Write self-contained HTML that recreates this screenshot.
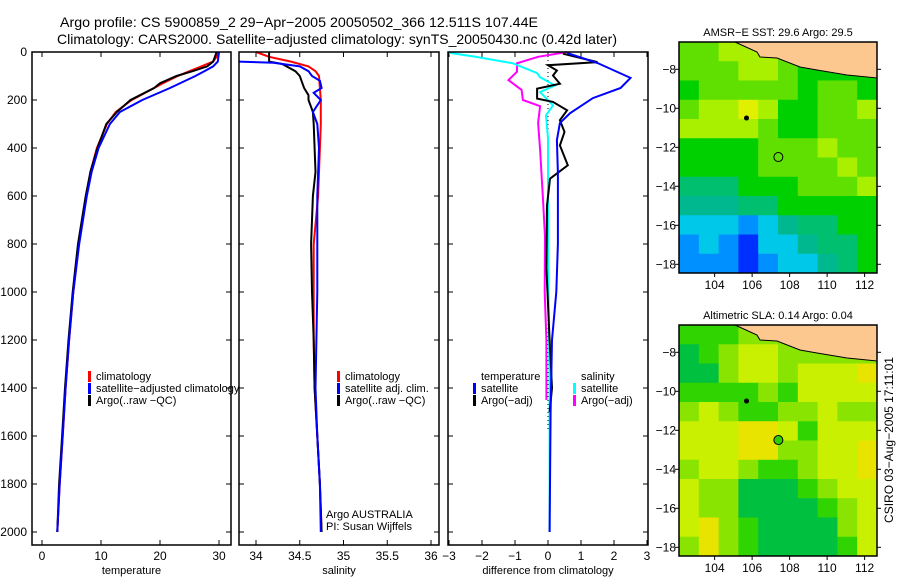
<!DOCTYPE html>
<html><head><meta charset="utf-8"><style>
body{margin:0;background:#fff}
svg{display:block;font-family:"Liberation Sans",sans-serif}
</style></head><body>
<svg id="c" width="900" height="580" viewBox="0 0 900 580">
<text x="60" y="27" font-size="14" textLength="478" lengthAdjust="spacingAndGlyphs">Argo profile: CS 5900859_2 29−Apr−2005 20050502_366 12.511S 107.44E</text>
<text x="57" y="44" font-size="14" textLength="560" lengthAdjust="spacingAndGlyphs">Climatology: CARS2000. Satellite−adjusted climatology: synTS_20050430.nc (0.42d later)</text>
<text transform="translate(893,440) rotate(-90)" font-size="12" text-anchor="middle">CSIRO 03−Aug−2005 17:11:01</text>
</svg>
<script>
// ---- data ----
const depthTicks=[0,200,400,600,800,1000,1200,1400,1600,1800,2000];
const tempTicks=[0,10,20,30];
const salTicks=[34,34.5,35,35.5,36];
const salTickLabels=["34","34.5","35","35.5","36"];
const diffTicks=[-3,-2,-1,0,1,2,3];
const tClimD=[0,20,40,60,80,100,130,150,200,250,300,400,500,600,800,1000,1200,1400,1600,1800,2000];
const tClimV=[29.8,29.6,29,27,25,23,20.5,19,15.2,12.5,11,9.3,8.2,7.5,6.2,5.3,4.6,4.0,3.5,3.0,2.6];
const tSatD=[0,40,60,80,100,150,200,250,300,400,500,600,800,1000,1200,1400,1600,1800,2000];
const tSatV=[30,29.8,29,27.5,26,21.7,17,13.2,11.5,9.6,8.4,7.6,6.3,5.3,4.6,4.0,3.5,3.0,2.6];
const tArgD=[0,20,40,60,80,100,130,150,200,250,300,400,500,600,800,1000,1200,1400,1600,1800,2000];
const tArgV=[29.6,29.3,29,28,25.5,22.8,20,19,15,12.7,10.9,9.4,8.2,7.4,6.1,5.2,4.5,3.9,3.4,2.9,2.6];
const sClimD=[0,20,40,60,80,100,150,200,300,400,500,600,800,1000,1200,1400,1600,1800,2000];
const sClimV=[34.0,34.15,34.4,34.6,34.68,34.72,34.73,34.74,34.74,34.73,34.72,34.71,34.66,34.66,34.66,34.67,34.7,34.73,34.75];
const sSatD=[40,45,60,80,100,120,150,170,200,250,300,400,600,800,1000,1200,1400,1600,1800,2000];
const sSatV=[33.8,34.2,34.5,34.6,34.64,34.73,34.75,34.66,34.74,34.65,34.7,34.72,34.7,34.7,34.7,34.69,34.68,34.7,34.73,34.74];
const sArgD=[0,40,50,80,100,120,150,180,200,250,300,400,500,600,800,1000,1200,1400,1600,1800,2000];
const sArgV=[34.15,34.15,34.3,34.45,34.5,34.52,34.55,34.6,34.6,34.65,34.66,34.67,34.68,34.65,34.63,34.64,34.66,34.67,34.7,34.73,34.75];
const dTSatD=[4,46,108,150,192,255,296,367,506,800,1000,1200,1500,2000];
const dTSatV=[0.58,1.5,2.5,2.2,1.36,0.67,0.36,0.27,0.3,0.3,0.25,0.12,0.08,0.05];
const dTArgD=[7,42,55,77,98,132,153,194,208,243,284,333,389,472,528,640,900,1200,1400,1500];
const dTArgV=[0.45,1.5,0,0.27,0.15,0.36,-0.33,-0.33,0.15,0.58,0.36,0.5,0.36,0.6,0.06,-0.03,-0.05,0.05,0.12,0.05];
const dSSatD=[3,20,47,88,105,139,167,222,264,361,800,1400,2000];
const dSSatV=[-3,-2.2,-1.06,-0.33,-0.24,0.21,-0.24,0.15,-0.06,0,0,0.05,0.05];
const dSArgD=[0,20,47,82,117,158,200,226,296,407,615,770,1000,1200,1450];
const dSArgV=[0.58,-0.3,-0.94,-0.94,-1.2,-0.8,-0.76,-0.24,-0.3,-0.24,-0.15,-0.09,-0.1,-0.05,-0.05];
const lonTicks=[104,106,108,110,112];
const latTicks=[-8,-10,-12,-14,-16,-18];
const sstGrid=[
[6,6,7,7,7,6,6,6,6,6],[6,6,6,7,7,6,5,5,5,5],[5,6,6,6,6,6,5,6,6,5],[6,7,7,8,7,5,5,6,6,7],
[7,7,7,7,6,5,5,6,6,6],[5,5,5,5,6,6,6,7,6,6],[5,5,5,5,6,6,6,6,7,6],[4,4,4,5,5,5,6,6,6,7],
[3,3,3,4,4,5,5,5,5,5],[2,2,2,1,2,3,4,4,5,5],[1,2,1,0,2,2,3,4,4,5],[1,1,1,0,1,2,2,3,4,5]];
const slaGrid=[
[5,5,5,6,6,6,7,7,7,7],[4,5,6,7,7,6,6,6,6,6],[4,4,6,7,7,6,7,7,7,8],[5,5,5,5,6,5,7,7,7,7],
[6,7,6,5,5,6,6,7,6,6],[7,7,7,8,8,7,5,7,7,7],[7,7,7,8,8,6,6,7,7,8],[6,7,7,6,5,5,6,7,7,8],
[7,6,6,4,4,4,5,6,7,7],[7,6,6,4,4,4,4,5,6,7],[7,8,6,5,4,4,4,4,6,7],[6,8,6,5,4,4,4,4,5,7]];
const sstCols=["#0030ff","#0090ff","#00c8e8","#00b890","#00c070","#00d000","#60e000","#a8f000","#e0f000","#ffc000"];
const slaCols=["#00b060","#00b060","#00b060","#00b060","#00c040","#30d400","#88e400","#c8f000","#e8e400","#f0a000"];
// ---- drawing ----
const svg=document.getElementById('c');const NS="http://www.w3.org/2000/svg";
function mk(t,a,p){const e=document.createElementNS(NS,t);for(const k in a)e.setAttribute(k,a[k]);(p||svg).appendChild(e);return e;}
const yD=d=>52+d*0.24;
function panel(name,x0,x1,xs,ticks,labels,xlabel){
  const g=mk('g',{});
  
  
  for(const t of depthTicks){const y=yD(t);mk('line',{x1:x0,x2:x0+5,y1:y,y2:y,stroke:'#000'},g);mk('line',{x1:x1-5,x2:x1,y1:y,y2:y,stroke:'#000'},g);}
  ticks.forEach((t,i)=>{const x=xs(t);mk('line',{x1:x,x2:x,y1:52,y2:57,stroke:'#000'},g);mk('line',{x1:x,x2:x,y1:540,y2:545,stroke:'#000'},g);
    const tx=mk('text',{x:x,y:560,'font-size':12,'text-anchor':'middle'},g);tx.textContent=labels[i];});
  const xl=mk('text',{x:(x0+x1)/2,y:574,'font-size':11,'text-anchor':'middle'},g);xl.textContent=xlabel;
  return g;
}
function line(g,D,V,xs,col,name,w){const p=D.map((d,i)=>xs(V[i]).toFixed(1)+','+yD(d).toFixed(1)).join(' ');
  const e=mk('polyline',{points:p,fill:'none',stroke:col,'stroke-width':w||2},g);
  
  }
function frame(g,x0,x1){mk('rect',{x:x0,y:52,width:x1-x0,height:493,fill:'none',stroke:'#000','stroke-width':1.5},g);}
function legend(g,x,y,items){items.forEach((it,i)=>{if(it[1])mk('rect',{x:x,y:y+i*12-9,width:3,height:11,fill:it[1]},g);
  const t=mk('text',{x:x+8,y:y+i*12,'font-size':11},g);t.textContent=it[0];});}
depthTicks.forEach(t=>{const e=mk('text',{x:27,y:yD(t)+4,'font-size':12,'text-anchor':'end'});e.textContent=t;
  
  });
const xT=v=>42+v*5.9;
const g1=panel('temperature-panel',32,231,xT,tempTicks,tempTicks.map(String),'temperature');
line(g1,tClimD,tClimV,xT,'#f00','temp-climatology-line');
line(g1,tArgD,tArgV,xT,'#000','temp-argo-line');
line(g1,tSatD,tSatV,xT,'#00f','temp-satellite-line');
frame(g1,32,231);
legend(g1,88,380,[['climatology','#f00'],['satellite−adjusted climatology','#00f'],['Argo(..raw −QC)','#000']]);
const xS=v=>256+(v-34)*87.5;
const g2=panel('salinity-panel',239,439,xS,salTicks,salTickLabels,'salinity');
line(g2,sClimD,sClimV,xS,'#f00','sal-climatology-line');
line(g2,sArgD,sArgV,xS,'#000','sal-argo-line');
line(g2,sSatD,sSatV,xS,'#00f','sal-satellite-line');
frame(g2,239,439);
legend(g2,337,380,[['climatology','#f00'],['satellite adj. clim.','#00f'],['Argo(..raw −QC)','#000']]);
legend(g2,318,518,[['Argo AUSTRALIA',null],['PI: Susan Wijffels',null]]);
const xDf=v=>548+v*33;
const g3=panel('difference-panel',448,648,xDf,diffTicks,diffTicks.map(v=>v<0?'−'+(-v):String(v)),'difference from climatology');
mk('line',{x1:548,x2:548,y1:52,y2:430,stroke:'#000','stroke-dasharray':'1,3'},g3);
line(g3,dSArgD,dSArgV,xDf,'#f0f','diff-sal-argo-line');
line(g3,dSSatD,dSSatV,xDf,'#0ff','diff-sal-satellite-line');
line(g3,dTArgD,dTArgV,xDf,'#000','diff-temp-argo-line');
line(g3,dTSatD,dTSatV,xDf,'#00f','diff-temp-satellite-line');
frame(g3,448,648);
legend(g3,473,380,[['temperature',null],['satellite','#00f'],['Argo(−adj)','#000']]);
legend(g3,573,380,[['salinity',null],['satellite','#0ff'],['Argo(−adj)','#f0f']]);
function map(name,top,grid,cols,title,filledCircle){
  const L=679,R=877,B=top+231;
  const xL=lon=>L+(lon-102.1)*18.75, yL=lat=>top+(-6.6-lat)*19.5;
  const g=mk('g',{});
  
  
  const cw=(R-L)/grid[0].length, ch=(B-top)/grid.length;
  grid.forEach((row,r)=>row.forEach((v,c)=>{mk('rect',{x:L+c*cw,y:top+r*ch,width:cw+0.5,height:ch+0.5,fill:cols[v]},g);}));
  const land=[[735,0],[757,10],[760,15],[777,16],[800,25],[817,28],[847,33],[877,36],[877,0]].map(p=>p[0]+','+(top+p[1])).join(' ');
  mk('polygon',{points:land,fill:'#fcc890',stroke:'#000','stroke-width':1},g);
  mk('circle',{cx:xL(105.7),cy:yL(-10.5),r:2.5,fill:'#000'},g);
  mk('circle',{cx:xL(107.4),cy:yL(-12.5),r:4.5,fill:filledCircle?'#30d000':'none',stroke:'#000'},g);
  mk('rect',{x:L,y:top,width:R-L,height:B-top,fill:'none',stroke:'#000','stroke-width':1.5},g);
  lonTicks.forEach(t=>{const x=xL(t);mk('line',{x1:x,x2:x,y1:B,y2:B+4,stroke:'#000'},g);const e=mk('text',{x:x,y:B+16,'font-size':12,'text-anchor':'middle'},g);e.textContent=t;});
  latTicks.forEach(t=>{const y=yL(t);mk('line',{x1:L-4,x2:L,y1:y,y2:y,stroke:'#000'},g);mk('line',{x1:R,x2:R+4,y1:y,y2:y,stroke:'#000'},g);const e=mk('text',{x:L-3,y:y+4,'font-size':12,'text-anchor':'end'},g);e.textContent='−'+(-t);});
  const tt=mk('text',{x:(L+R)/2,y:top-6,'font-size':11,'text-anchor':'middle'},g);tt.textContent=title;
}
map('sst-map',42,sstGrid,sstCols,'AMSR−E SST: 29.6 Argo: 29.5',false);
map('sla-map',325,slaGrid,slaCols,'Altimetric SLA: 0.14 Argo: 0.04',true);
</script>
</body></html>
